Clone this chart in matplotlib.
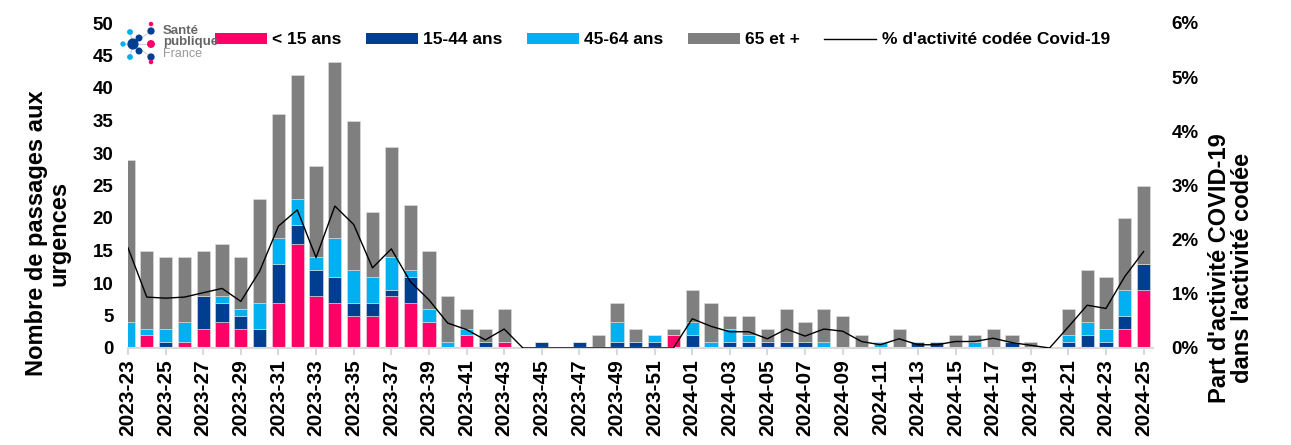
import numpy as np
import matplotlib.pyplot as plt
from matplotlib.patches import Patch
from matplotlib.lines import Line2D

plt.rcParams['font.family'] = ['Liberation Sans Narrow', 'Liberation Sans', 'DejaVu Sans']
plt.rcParams['font.weight'] = 'bold'

weeks = ['2023-%02d' % w for w in range(23, 53)] + ['2024-%02d' % w for w in range(1, 26)]

moins_15 = [0, 2, 0, 1, 3, 4, 3, 0, 7, 16, 8, 7, 5, 5, 8, 7, 4, 0, 2, 0, 1, 0, 0, 0, 0, 0, 0, 0, 0, 2,
            0, 0, 0, 0, 0, 0, 0, 0, 0, 0, 0, 0, 0, 0, 0, 0, 0, 0, 0, 0, 0, 0, 0, 3, 9]
a15_44 = [0, 0, 1, 0, 5, 3, 2, 3, 6, 3, 4, 4, 2, 2, 1, 4, 0, 0, 0, 1, 0, 0, 1, 0, 1, 0, 1, 1, 1, 0,
          2, 0, 1, 1, 1, 1, 1, 0, 0, 0, 0, 0, 1, 1, 0, 0, 0, 1, 0, 0, 1, 2, 1, 2, 4]
a45_64 = [4, 1, 2, 3, 0, 1, 1, 4, 4, 4, 2, 6, 5, 4, 5, 1, 2, 1, 1, 0, 0, 0, 0, 0, 0, 0, 3, 0, 1, 0,
          2, 1, 2, 1, 0, 0, 0, 1, 0, 0, 1, 0, 0, 0, 0, 1, 0, 0, 0, 0, 1, 2, 2, 4, 0]
plus_65 = [25, 12, 11, 10, 7, 8, 8, 16, 19, 19, 14, 27, 23, 10, 17, 10, 9, 7, 3, 2, 5, 0, 0, 0, 0, 2, 3, 2, 0, 1,
           5, 6, 2, 3, 2, 5, 3, 5, 5, 2, 0, 3, 0, 0, 2, 1, 3, 1, 1, 0, 4, 8, 8, 11, 12]
pct_covid = [1.85, 0.94, 0.92, 0.94, 1.02, 1.10, 0.86, 1.42, 2.25, 2.55, 1.67, 2.62, 2.28, 1.48, 1.83,
             1.23, 0.89, 0.46, 0.34, 0.15, 0.35, 0, 0, 0, 0, 0, 0, 0, 0, 0,
             0.54, 0.40, 0.30, 0.30, 0.17, 0.35, 0.22, 0.35, 0.31, 0.12, 0.06, 0.17, 0.06, 0.06, 0.12,
             0.12, 0.18, 0.10, 0.05, 0, 0.39, 0.79, 0.73, 1.32, 1.78]

labels = ['< 15 ans', '15-44 ans', '45-64 ans', '65 et +']
colors = ['#FF0066', '#003F8F', '#00B0F0', '#7F7F7F']
series = [moins_15, a15_44, a45_64, plus_65]

W, H = 1291, 445
fig = plt.figure(figsize=(W / 100, H / 100), dpi=100)
ax = fig.add_axes([128 / W, 1 - 348 / H, (1153 - 128) / W, (348 - 23) / H])
x = np.arange(len(weeks))
bottom = np.zeros(len(weeks))
for vals, col in zip(series, colors):
    ax.bar(x, vals, width=0.7, bottom=bottom, color=col, edgecolor='#e0e0e0', linewidth=0.4, zorder=2)
    bottom += np.array(vals)

ax.set_xlim(0, 54.5)
ax.set_ylim(0, 50)
ax.set_yticks(range(0, 51, 5))
ax.set_xticks(x[::2])
ax.set_xticklabels(weeks[::2], rotation=90, fontsize=15)
ax.tick_params(axis='x', length=5, color='#d9d9d9', width=1.5, pad=3)
ax.tick_params(axis='y', length=0, labelsize=13.5, pad=10.5)
for s in ['top', 'right', 'left']:
    ax.spines[s].set_visible(False)
ax.spines['bottom'].set_color('#d9d9d9')
ax.spines['bottom'].set_linewidth(1.5)

ax2 = ax.twinx()
ax2.plot(x, pct_covid, color='black', linewidth=1, zorder=3)
ax2.set_ylim(0, 6)
ax2.set_yticks(range(0, 7))
ax2.set_yticklabels(['%d%%' % v for v in range(0, 7)])
ax2.tick_params(axis='y', length=0, labelsize=13.5, pad=13.5)
for s in ['top', 'right', 'left', 'bottom']:
    ax2.spines[s].set_visible(False)

fig.text(48 / W, 1 - 233 / H, "Nombre de passages aux\nurgences", fontsize=17, fontweight='bold',
         rotation=90, ha='center', va='center', linespacing=0.95)
fig.text(1231 / W, 1 - 268 / H, "Part d'activité COVID-19\ndans l'activité codée", fontsize=17,
         fontweight='bold', rotation=90, ha='center', va='center', linespacing=0.95)

handles = [Patch(facecolor=c) for c in colors] + [Line2D([0], [0], color='black', linewidth=1)]
leg = ax.legend(handles, labels + ["% d'activité codée Covid-19"], ncol=5, frameon=False,
                loc='center left', bbox_to_anchor=(215 / W, 1 - 40 / H), bbox_transform=fig.transFigure,
                fontsize=12.5, borderpad=0, borderaxespad=0,
                handlelength=3.0, handleheight=0.6, handletextpad=0.3, columnspacing=1.4)

# logo Santé publique France
lax = fig.add_axes([115 / W, 1 - 66 / H, 45 / W, 46 / H])
lax.axis('off')
lax.set_xlim(115, 160)
lax.set_ylim(66, 20)
for (px, py) in [(130, 32), (123, 44), (130, 57), (139, 38), (139, 51), (151, 31), (151, 44), (151, 57)]:
    lax.plot([133, px], [44, py], color='#d0d0dc', linewidth=0.8)
dots_x = [130, 123, 130, 133, 139, 139, 151, 151, 151, 151, 151]
dots_y = [32, 44, 57, 44, 38, 51, 24, 31, 44, 57, 62]
dots_c = ['#00B0F0', '#00B0F0', '#00B0F0', '#003F8F', '#003F8F', '#003F8F', '#FF0066', '#003F8F',
          '#FF0066', '#003F8F', '#FF0066']
dots_s = [10, 8, 10, 50, 16, 16, 5, 18, 22, 18, 5]
lax.scatter(dots_x, dots_y, s=dots_s, c=dots_c, zorder=3)
logo_font = ['Liberation Sans', 'DejaVu Sans']
fig.text(163 / W, 1 - 31 / H, 'Santé', fontsize=9.5, color='#666666', fontweight='bold',
         family=logo_font, va='center', ha='left')
fig.text(163 / W, 1 - 42 / H, 'publique', fontsize=9.5, color='#666666', fontweight='bold',
         family=logo_font, va='center', ha='left')
fig.text(163 / W, 1 - 54 / H, 'France', fontsize=9, color='#999999', fontweight='normal',
         family=logo_font, va='center', ha='left')

fig.savefig('out.png', dpi=100)
